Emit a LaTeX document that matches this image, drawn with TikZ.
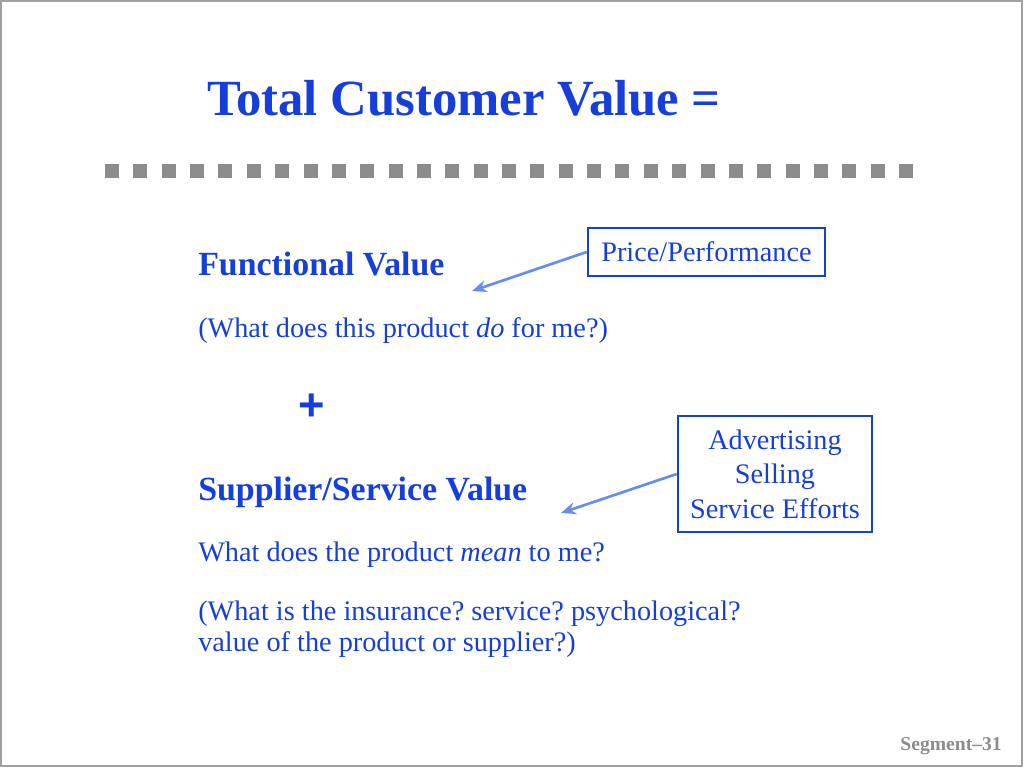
\documentclass[tikz,border=0pt]{standalone}
\usepackage{fontspec}
\setmainfont{Liberation Serif}
\newfontfamily\plusfont{Liberation Sans}
\usetikzlibrary{arrows.meta}
\definecolor{slideblue}{RGB}{22,62,218}
\definecolor{arrowblue}{RGB}{104,140,238}
\definecolor{bargray}{RGB}{140,140,140}
\definecolor{framegray}{RGB}{160,160,160}
\frenchspacing
\begin{document}
\begin{tikzpicture}[x=0.75pt,y=-0.75pt,
  heading/.style={anchor=base west,inner sep=0pt,text=slideblue,font=\fontsize{25.4}{30}\selectfont\bfseries},
  body/.style={anchor=base west,inner sep=0pt,text=slideblue,font=\fontsize{21.2}{23.25}\selectfont},
  notebox/.style={draw=slideblue,line width=2pt,text=slideblue,align=center,inner sep=0pt,font=\fontsize{21.2}{25.9}\selectfont},
  pointer/.style={arrowblue,line width=2pt,-{Stealth[length=11pt,width=9pt,inset=3.5pt]}}]
\useasboundingbox (0,0) rectangle (1024,768);
% Frame
\draw[framegray,line width=1pt] (1,1) rectangle (1022,766);
% Title
\node[heading,font=\fontsize{38}{46}\selectfont\bfseries] (title) at (207,115) {Total Customer Value =};
\foreach \i in {0,...,28}
  \fill[bargray] (105+\i*28.36,164) rectangle ++(14,14);
% Functional value
\node[heading] (func) at (198,275) {Functional Value};
\node[body] (funcq) at (198,337) {(What does this product \textit{do} for me?)};
\node[heading,anchor=center,font=\plusfont\fontsize{34}{36}\selectfont\bfseries] (plus) at (312,407) {+};
% Supplier value
\node[heading] (supp) at (198,500) {Supplier/Service Value};
\node[body] (suppq) at (198,561) {What does the product \textit{mean} to me?};
\node[body,align=left,anchor=north west] (suppr) at (198,601) {(What is the insurance? service? psychological?\\value of the product or supplier?)};
% Boxes and arrows
\node[notebox,minimum width=177.75pt,minimum height=36pt] (price) at (706.5,252) {Price/Performance};
\node[notebox,minimum width=145.5pt,minimum height=87pt] (adv) at (775,474) {Advertising\\Selling\\Service Efforts};
\coordinate (functip) at (472,291);
\coordinate (supptip) at (561,513);
\draw[pointer] (price.west) -- (functip);
\draw[pointer] (adv.west) -- (supptip);
% Footer
\node[anchor=base east,inner sep=0pt,text=bargray,font=\fontsize{14.7}{16}\selectfont\bfseries] (seg) at (1002,750) {Segment--31};
\end{tikzpicture}
\end{document}
